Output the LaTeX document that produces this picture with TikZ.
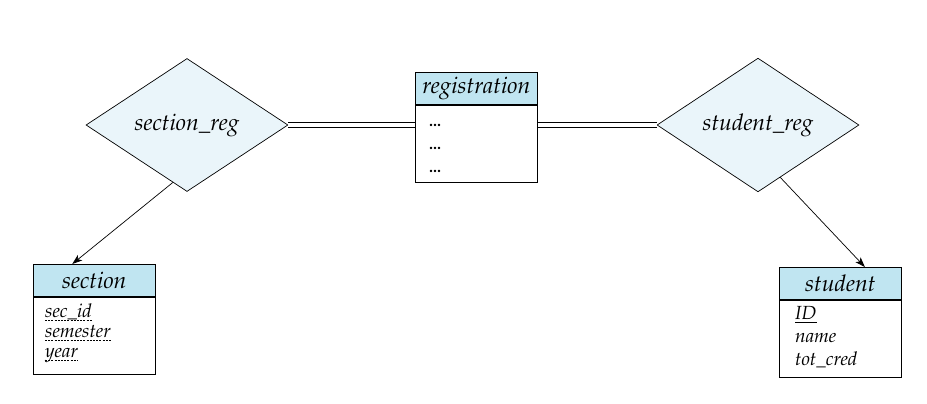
\documentclass[tikz,border=0pt]{standalone}
\usepackage[T1]{fontenc}
\usepackage{mathpazo}
\usetikzlibrary{shapes.geometric,arrows.meta,calc}
\definecolor{relfill}{RGB}{234,245,250}
\definecolor{headfill}{RGB}{192,229,241}
\tikzset{
  rel/.style={diamond, draw, fill=relfill, inner sep=0pt, minimum width=202pt, minimum height=133pt,
    font=\fontsize{23}{26}\selectfont\itshape, line width=0.7pt},
  ehead/.style={draw, fill=headfill, minimum width=122pt, minimum height=32pt, inner sep=0pt,
    font=\fontsize{23}{26}\selectfont\itshape, anchor=north west, line width=0.7pt},
  ebody/.style={draw, fill=white, minimum width=122pt, minimum height=77pt, inner sep=0pt,
    anchor=north west, line width=0.7pt},
  attr/.style={anchor=base west, inner sep=0pt, font=\fontsize{19}{21}\selectfont\itshape},
  dots/.style={anchor=base west, inner sep=0pt, font=\fontsize{16}{18}\selectfont\bfseries},
  keyline/.style={line width=0.6pt},
  dkeyline/.style={line width=0.6pt, dash pattern=on 2pt off 1.2pt},
  conn/.style={line width=0.7pt, -{Stealth[length=10pt,width=7pt,inset=2.5pt]}},
  dbl/.style={double, double distance=4pt, line width=0.7pt},
}
\begin{document}
\begin{tikzpicture}[x=1pt,y=-1pt]
\useasboundingbox (0,0) rectangle (927,404);
% relationships
\node[rel] (sreg) at (187,125) {section\_reg};
\node[rel] (streg) at (758,125) {student\_reg};
% registration
\node[ehead] (regh) at (415,72) {registration};
\node[ebody] (regb) at (regh.south west) {};
\node[dots] (rd1) at (429,126) {...};
\node[dots] (rd2) at (429,149) {...};
\node[dots] (rd3) at (429,172) {...};
% section
\node[ehead] (sech) at (33,264) {section};
\node[ebody] (secb) at (sech.south west) {};
\node[attr] (sa1) at (45,317) {sec\_id};
\node[attr] (sa2) at (45,337) {semester};
\node[attr] (sa3) at (45,357) {year};
\foreach \n in {sa1,sa2,sa3}
  \draw[dkeyline] ($(\n.base west)+(0,3)$) -- ($(\n.base east)+(0,3)$);
% student
\node[ehead] (stuh) at (779,267) {student};
\node[ebody] (stub) at (stuh.south west) {};
\node[attr] (ta1) at (795,319) {ID};
\node[attr] (ta2) at (795,342) {name};
\node[attr] (ta3) at (795,365) {tot\_cred};
\draw[keyline] ($(ta1.base west)+(0,3)$) -- ($(ta1.base east)+(0,3)$);
% connectors
\draw[dbl] (sreg.east) -- (sreg.east -| regb.west);
\draw[dbl] (regb.east |- streg.west) -- (streg.west);
\draw[conn] ($(sreg.west)!0.86!(sreg.south)$) -- ($(sech.north west)!0.32!(sech.north east)$);
\draw[conn] ($(streg.south)!0.22!(streg.east)$) -- ($(stuh.north west)!0.70!(stuh.north east)$);
\end{tikzpicture}
\end{document}
